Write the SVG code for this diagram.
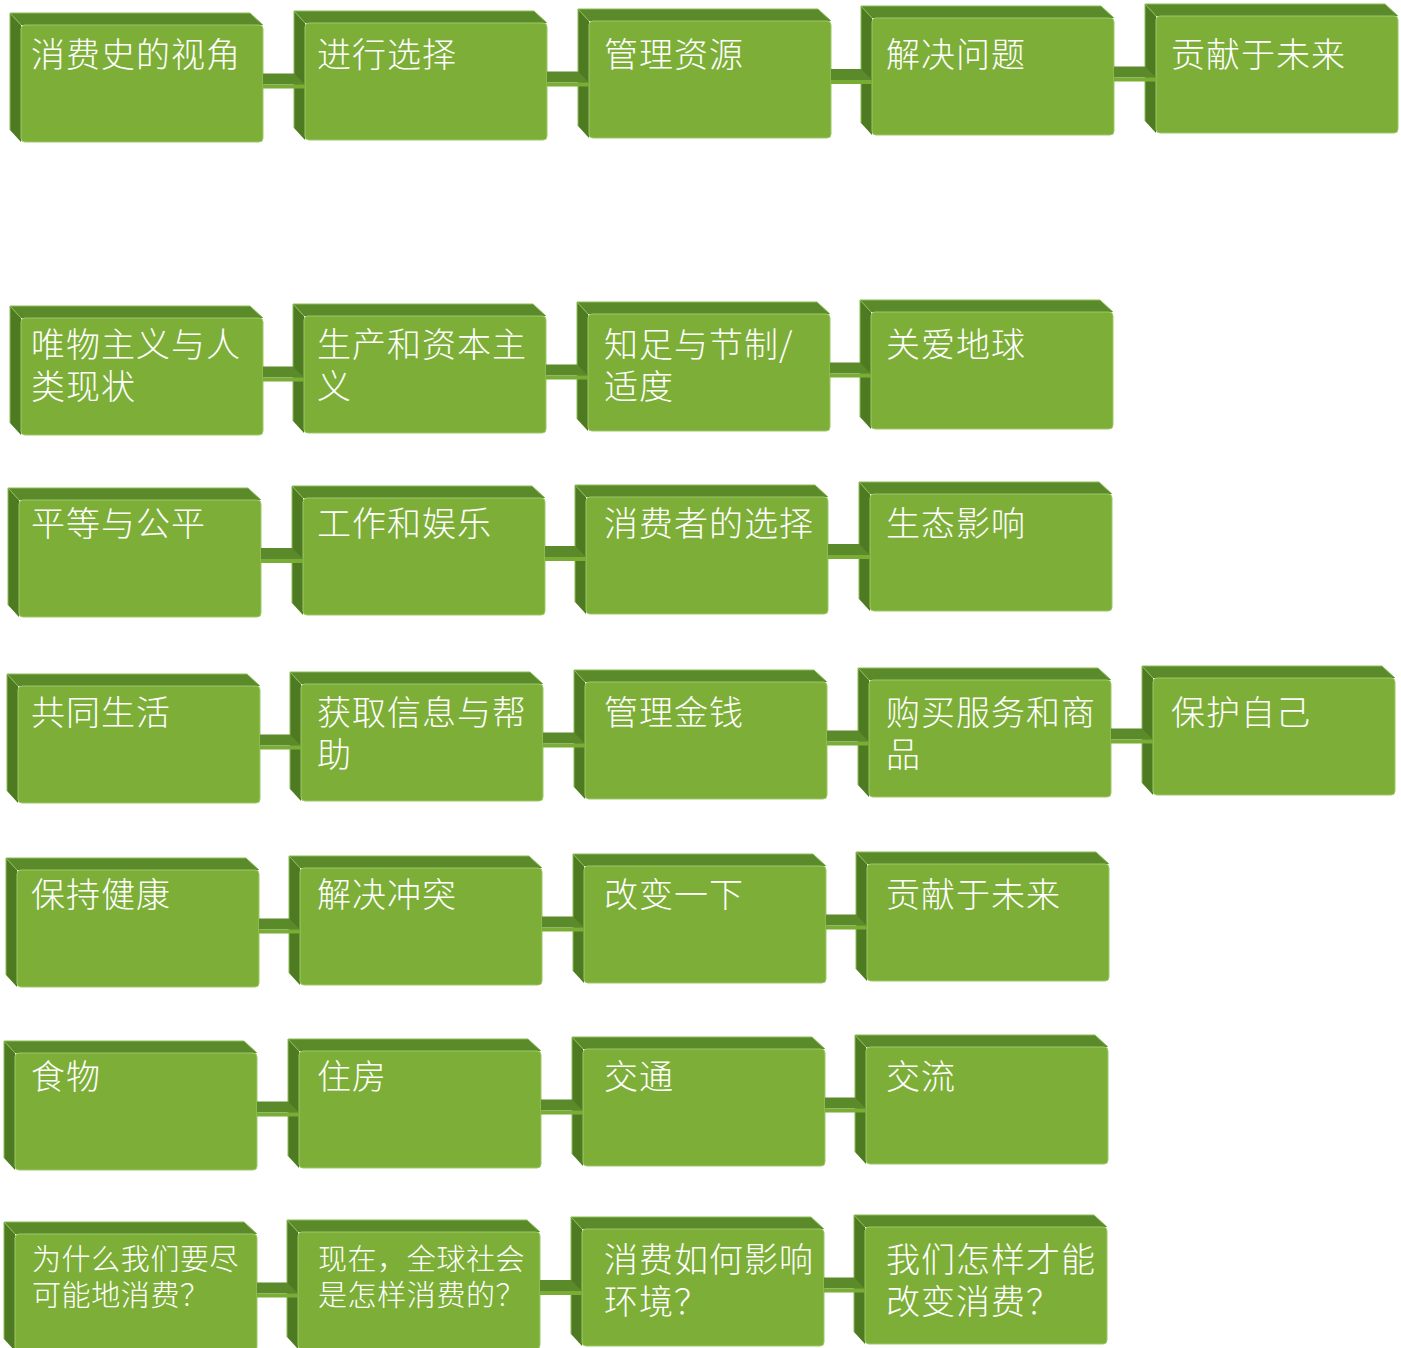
<svg xmlns="http://www.w3.org/2000/svg" xmlns:xlink="http://www.w3.org/1999/xlink" width="1401" height="1348" viewBox="0 0 1401 1348">
<style>
.t{font-family:"Noto Sans CJK SC","Noto Sans CJK JP",sans-serif;font-size:34px;fill:#ffffff;font-weight:300;letter-spacing:1px}
.s{font-size:29px;letter-spacing:0.6px}
.cd{fill:#5b8a2b}
.cl{fill:#7aad36}
</style>
<defs>
<g id="box">
<polygon points="-11,-12 0,0 0,117 -11,105" fill="#4e7a22"/>
<polygon points="-11,-12 229,-12 242,0 0,0" fill="#5b8a2b"/>
<polyline points="-11,105 -11,-12 229,-12 242,0" fill="none" stroke="#8cbc55" stroke-width="1"/>
<line x1="-11" y1="-12" x2="0" y2="0" stroke="#8cbc55" stroke-width="1"/>
<rect x="0" y="0" width="242" height="117" rx="4" fill="#7daf38" stroke="#9cc768" stroke-width="1"/>
</g>
</defs>
<rect width="1401" height="1348" fill="#ffffff"/>

<g id="row1">
<g id="n1"><use xlink:href="#box" x="21" y="25"/><text class="t" x="31" y="67">消费史的视角</text></g>
<g id="n2"><use xlink:href="#box" x="305" y="23"/><text class="t" x="317" y="67">进行选择</text></g>
<g id="n3"><use xlink:href="#box" x="589" y="21"/><text class="t" x="604" y="67">管理资源</text></g>
<g id="n4"><use xlink:href="#box" x="872" y="18"/><text class="t" x="886" y="67">解决问题</text></g>
<g id="n5"><use xlink:href="#box" x="1156" y="16"/><text class="t" x="1171" y="67">贡献于未来</text></g>
</g>

<g id="row2">
<g id="n6"><use xlink:href="#box" x="21" y="318"/><text class="t" x="31" y="357">唯物主义与人<tspan x="31" dy="42">类现状</tspan></text></g>
<g id="n7"><use xlink:href="#box" x="304" y="316"/><text class="t" x="317" y="357">生产和资本主<tspan x="317" dy="42">义</tspan></text></g>
<g id="n8"><use xlink:href="#box" x="588" y="314"/><text class="t" x="604" y="357">知足与节制/<tspan x="604" dy="42">适度</tspan></text></g>
<g id="n9"><use xlink:href="#box" x="871" y="312"/><text class="t" x="886" y="357">关爱地球</text></g>
</g>

<g id="row3">
<g id="n10"><use xlink:href="#box" x="19" y="500"/><text class="t" x="31" y="536">平等与公平</text></g>
<g id="n11"><use xlink:href="#box" x="303" y="498"/><text class="t" x="317" y="536">工作和娱乐</text></g>
<g id="n12"><use xlink:href="#box" x="586" y="497"/><text class="t" x="604" y="536">消费者的选择</text></g>
<g id="n13"><use xlink:href="#box" x="870" y="494"/><text class="t" x="886" y="536">生态影响</text></g>
</g>

<g id="row4">
<g id="n14"><use xlink:href="#box" x="18" y="686"/><text class="t" x="31" y="725">共同生活</text></g>
<g id="n15"><use xlink:href="#box" x="301" y="684"/><text class="t" x="317" y="725">获取信息与帮<tspan x="317" dy="42">助</tspan></text></g>
<g id="n16"><use xlink:href="#box" x="585" y="682"/><text class="t" x="604" y="725">管理金钱</text></g>
<g id="n17"><use xlink:href="#box" x="869" y="680"/><text class="t" x="886" y="725">购买服务和商<tspan x="886" dy="42">品</tspan></text></g>
<g id="n18"><use xlink:href="#box" x="1153" y="678"/><text class="t" x="1171" y="725">保护自己</text></g>
</g>

<g id="row5">
<g id="n19"><use xlink:href="#box" x="17" y="870"/><text class="t" x="31" y="907">保持健康</text></g>
<g id="n20"><use xlink:href="#box" x="300" y="868"/><text class="t" x="317" y="907">解决冲突</text></g>
<g id="n21"><use xlink:href="#box" x="584" y="866"/><text class="t" x="604" y="907">改变一下</text></g>
<g id="n22"><use xlink:href="#box" x="867" y="864"/><text class="t" x="886" y="907">贡献于未来</text></g>
</g>

<g id="row6">
<g id="n23"><use xlink:href="#box" x="15" y="1053"/><text class="t" x="31" y="1089">食物</text></g>
<g id="n24"><use xlink:href="#box" x="299" y="1051"/><text class="t" x="317" y="1089">住房</text></g>
<g id="n25"><use xlink:href="#box" x="583" y="1049"/><text class="t" x="604" y="1089">交通</text></g>
<g id="n26"><use xlink:href="#box" x="866" y="1047"/><text class="t" x="886" y="1089">交流</text></g>
</g>

<g id="row7">
<g id="n27"><use xlink:href="#box" x="15" y="1234"/><text class="t s" x="32" y="1270">为什么我们要尽<tspan x="32" dy="36">可能地消费？</tspan></text></g>
<g id="n28"><use xlink:href="#box" x="298" y="1232"/><text class="t s" x="318" y="1270">现在，全球社会<tspan x="318" dy="36">是怎样消费的？</tspan></text></g>
<g id="n29"><use xlink:href="#box" x="582" y="1229"/><text class="t" x="604" y="1272">消费如何影响<tspan x="604" dy="42">环境？</tspan></text></g>
<g id="n30"><use xlink:href="#box" x="865" y="1227"/><text class="t" x="886" y="1272">我们怎样才能<tspan x="886" dy="42">改变消费？</tspan></text></g>
</g>

<g id="connectors">
<polygon class="cd" points="263,73.5 294,73.5 305,84.5 263,84.5"/><rect class="cl" x="263" y="84.5" width="42" height="4"/>
<polygon class="cd" points="547,71.5 578,71.5 589,82.5 547,82.5"/><rect class="cl" x="547" y="82.5" width="42" height="4"/>
<polygon class="cd" points="831,69 861,69 872,80 831,80"/><rect class="cl" x="831" y="80" width="41" height="4"/>
<polygon class="cd" points="1114,66.5 1145,66.5 1156,77.5 1114,77.5"/><rect class="cl" x="1114" y="77.5" width="42" height="4"/>
<polygon class="cd" points="263,366.5 293,366.5 304,377.5 263,377.5"/><rect class="cl" x="263" y="377.5" width="41" height="4"/>
<polygon class="cd" points="546,364.5 577,364.5 588,375.5 546,375.5"/><rect class="cl" x="546" y="375.5" width="42" height="4"/>
<polygon class="cd" points="830,362.5 860,362.5 871,373.5 830,373.5"/><rect class="cl" x="830" y="373.5" width="41" height="4"/>
<polygon class="cd" points="261,548 292,548 303,559 261,559"/><rect class="cl" x="261" y="559" width="42" height="4"/>
<polygon class="cd" points="545,546 575,546 586,557 545,557"/><rect class="cl" x="545" y="557" width="41" height="4"/>
<polygon class="cd" points="828,544 859,544 870,555 828,555"/><rect class="cl" x="828" y="555" width="42" height="4"/>
<polygon class="cd" points="260,734.5 290,734.5 301,745.5 260,745.5"/><rect class="cl" x="260" y="745.5" width="41" height="4"/>
<polygon class="cd" points="543,732.5 574,732.5 585,743.5 543,743.5"/><rect class="cl" x="543" y="743.5" width="42" height="4"/>
<polygon class="cd" points="827,730.5 858,730.5 869,741.5 827,741.5"/><rect class="cl" x="827" y="741.5" width="42" height="4"/>
<polygon class="cd" points="1111,728.5 1142,728.5 1153,739.5 1111,739.5"/><rect class="cl" x="1111" y="739.5" width="42" height="4"/>
<polygon class="cd" points="259,918.5 289,918.5 300,929.5 259,929.5"/><rect class="cl" x="259" y="929.5" width="41" height="4"/>
<polygon class="cd" points="542,916.5 573,916.5 584,927.5 542,927.5"/><rect class="cl" x="542" y="927.5" width="42" height="4"/>
<polygon class="cd" points="826,914.5 856,914.5 867,925.5 826,925.5"/><rect class="cl" x="826" y="925.5" width="41" height="4"/>
<polygon class="cd" points="257,1101.5 288,1101.5 299,1112.5 257,1112.5"/><rect class="cl" x="257" y="1112.5" width="42" height="4"/>
<polygon class="cd" points="541,1099.5 572,1099.5 583,1110.5 541,1110.5"/><rect class="cl" x="541" y="1110.5" width="42" height="4"/>
<polygon class="cd" points="825,1097.5 855,1097.5 866,1108.5 825,1108.5"/><rect class="cl" x="825" y="1108.5" width="41" height="4"/>
<polygon class="cd" points="257,1282.5 287,1282.5 298,1293.5 257,1293.5"/><rect class="cl" x="257" y="1293.5" width="41" height="4"/>
<polygon class="cd" points="540,1280 571,1280 582,1291 540,1291"/><rect class="cl" x="540" y="1291" width="42" height="4"/>
<polygon class="cd" points="824,1277.5 854,1277.5 865,1288.5 824,1288.5"/><rect class="cl" x="824" y="1288.5" width="41" height="4"/>
</g>
</svg>
